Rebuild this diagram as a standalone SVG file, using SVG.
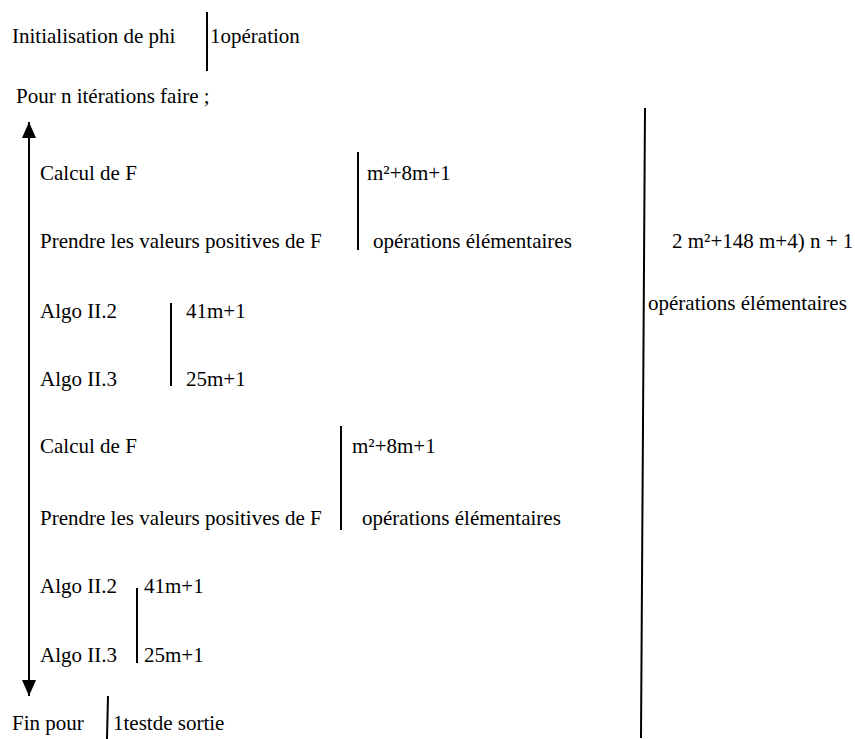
<svg xmlns="http://www.w3.org/2000/svg" width="855" height="739" viewBox="0 0 855 739">
<style>
text{font-family:'Liberation Serif','Times New Roman',serif;font-size:21px;fill:#000}
.bar{stroke:#000;stroke-width:2;fill:none}
</style>
<defs>
<marker id="ah" viewBox="0 0 16 14" refX="16" refY="7" markerWidth="16" markerHeight="14" markerUnits="userSpaceOnUse" orient="auto-start-reverse">
<path d="M0,0 L16,7 L0,14 Z" fill="#000"/>
</marker>
</defs>
<rect width="855" height="739" fill="#fff"/>
<g id="init">
<text x="12" y="43">Initialisation de phi</text>
<text x="210" y="43">1opération</text>
</g>
<g id="pour"><text x="16" y="103">Pour n itérations faire ;</text></g>
<g id="block1">
<text x="40" y="180">Calcul de F</text>
<text x="40" y="248">Prendre les valeurs positives de F</text>
<text x="367" y="180">m²+8m+1</text>
<text x="373" y="248">opérations élémentaires</text>
</g>
<g id="algo1">
<text x="40" y="318">Algo II.2</text>
<text x="40" y="386">Algo II.3</text>
<text x="186" y="318">41m+1</text>
<text x="186" y="386">25m+1</text>
</g>
<g id="block2">
<text x="40" y="453">Calcul de F</text>
<text x="40" y="525">Prendre les valeurs positives de F</text>
<text x="352" y="453">m²+8m+1</text>
<text x="362" y="525">opérations élémentaires</text>
</g>
<g id="algo2">
<text x="40" y="593">Algo II.2</text>
<text x="40" y="662">Algo II.3</text>
<text x="144" y="593">41m+1</text>
<text x="144" y="662">25m+1</text>
</g>
<g id="total">
<text x="672" y="248">2 m²+148 m+4) n + 1</text>
<text x="648" y="310">opérations élémentaires</text>
</g>
<g id="fin">
<text x="12" y="730">Fin pour</text>
<text x="113" y="730">1testde sortie</text>
</g>
<g id="connectors">
<line class="bar" x1="207" y1="12" x2="207" y2="71"/>
<line class="bar" x1="358" y1="152" x2="358" y2="250"/>
<line class="bar" x1="171" y1="303" x2="171" y2="386"/>
<line class="bar" x1="341" y1="426" x2="341" y2="530"/>
<line class="bar" x1="137" y1="588" x2="137" y2="663"/>
<line class="bar" x1="108" y1="696" x2="107" y2="739"/>
<line class="bar" x1="645" y1="108" x2="641" y2="738"/>
<line class="bar" x1="29" y1="122" x2="29" y2="696" marker-start="url(#ah)" marker-end="url(#ah)"/>
</g>
</svg>
